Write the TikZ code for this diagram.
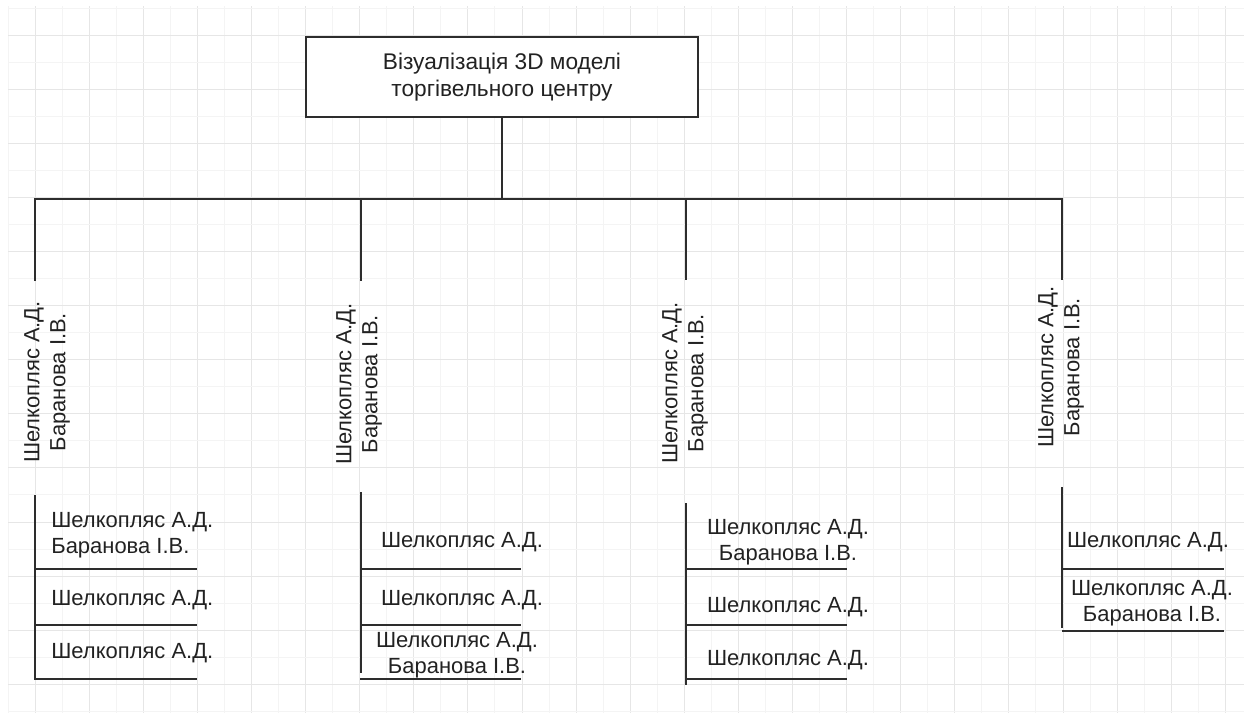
\documentclass[tikz,border=0pt]{standalone}
\usepackage{fontspec}
\setmainfont{Liberation Sans}
\usetikzlibrary{positioning}
\usepackage{xcolor}
\definecolor{gridminor}{RGB}{244,244,244}
\definecolor{gridmajor}{RGB}{230,230,230}
\definecolor{inkcolor}{RGB}{45,45,45}
\definecolor{textcolor}{RGB}{34,34,34}
\tikzset{
  rootbox/.style = {draw=inkcolor, line width=0.7pt, fill=white, minimum width=7.84cm,
                    minimum height=1.6cm, align=center, text=textcolor, inner sep=0pt,
                    font=\fontsize{12.9}{15.4}\selectfont},
  names/.style   = {text=textcolor, inner sep=0pt, align=center,
                    font=\fontsize{12.5}{14.8}\selectfont},
  lnames/.style  = {names, align=left, anchor=west},
  rotnames/.style= {names, rotate=90},
  link/.style    = {draw=inkcolor, line width=0.6pt},
  rung/.style    = {draw=inkcolor, line width=1.1pt},
}

\begin{document}
\begin{tikzpicture}[x=0.02cm, y=-0.02cm]
  \useasboundingbox (0,0) rectangle (1244,713);
  % background grid
  \foreach \i in {0,2,...,44} {
    \draw[gridminor, line width=0.5pt] ({8+27.05*\i},6) -- ({8+27.05*\i},713);
  }
  \foreach \i in {1,3,...,45} {
    \draw[gridmajor, line width=0.5pt] ({8+27.05*\i},6) -- ({8+27.05*\i},713);
  }
  \foreach \j in {0,2,...,26} {
    \draw[gridminor, line width=0.5pt] (8,{8+27.05*\j}) -- (1244,{8+27.05*\j});
  }
  \foreach \j in {1,3,...,25} {
    \draw[gridmajor, line width=0.5pt] (8,{8+27.05*\j}) -- (1244,{8+27.05*\j});
  }

  % root and tree bus
  \node[rootbox] (root) at (502,77) {Візуалізація 3D моделі\\торгівельного центру};
  \coordinate (bus) at (502,199);
  \coordinate (end1) at (35,281);
  \coordinate (end2) at (361,281);
  \coordinate (end3) at (686,280);
  \coordinate (end4) at (1062,280);
  \draw[link] (root.south) -- (bus);
  \draw[link] (end1) -- (end1 |- bus) -- (end4 |- bus) -- (end4);
  \foreach \k in {2,3} {
    \draw[link] (end\k |- bus) -- (end\k);
  }

  % vertical captions
  \node[rotnames] (cap1) at (47,382)   {Шелкопляс А.Д.\\Баранова І.В.};
  \node[rotnames] (cap2) at (359,384)  {Шелкопляс А.Д.\\Баранова І.В.};
  \node[rotnames] (cap3) at (685,383)  {Шелкопляс А.Д.\\Баранова І.В.};
  \node[rotnames] (cap4) at (1061,367) {Шелкопляс А.Д.\\Баранова І.В.};

  % column 1
  \draw[rung] (35,495) -- (35,679) -- (197,679);
  \foreach \y in {569,625} {
    \draw[rung] (35,\y) -- (197,\y);
  }
  \node[lnames] (a1) at (51,535) {Шелкопляс А.Д.\\Баранова І.В.};
  \node[lnames] (a2) at (51,600) {Шелкопляс А.Д.};
  \node[lnames] (a3) at (51,653) {Шелкопляс А.Д.};

  % column 2
  \draw[rung] (361,492) -- (361,673);
  \foreach \y in {569,625,679} {
    \draw[rung] (360,\y) -- (521,\y);
  }
  \node[names] (b1) at (462,542) {Шелкопляс А.Д.};
  \node[names] (b2) at (462,600) {Шелкопляс А.Д.};
  \node[names] (b3) at (457,655) {Шелкопляс А.Д.\\Баранова І.В.};

  % column 3
  \draw[rung] (686,503) -- (686,685);
  \foreach \y in {569,625,679} {
    \draw[rung] (685,\y) -- (847,\y);
  }
  \node[names] (c1) at (788,542) {Шелкопляс А.Д.\\Баранова І.В.};
  \node[names] (c2) at (788,607) {Шелкопляс А.Д.};
  \node[names] (c3) at (788,660) {Шелкопляс А.Д.};

  % column 4
  \draw[rung] (1062,487) -- (1062,628);
  \foreach \y in {569,631} {
    \draw[rung] (1062,\y) -- (1224,\y);
  }
  \node[names] (d1) at (1148,542) {Шелкопляс А.Д.};
  \node[names] (d2) at (1152,603) {Шелкопляс А.Д.\\Баранова І.В.};
\end{tikzpicture}
\end{document}
